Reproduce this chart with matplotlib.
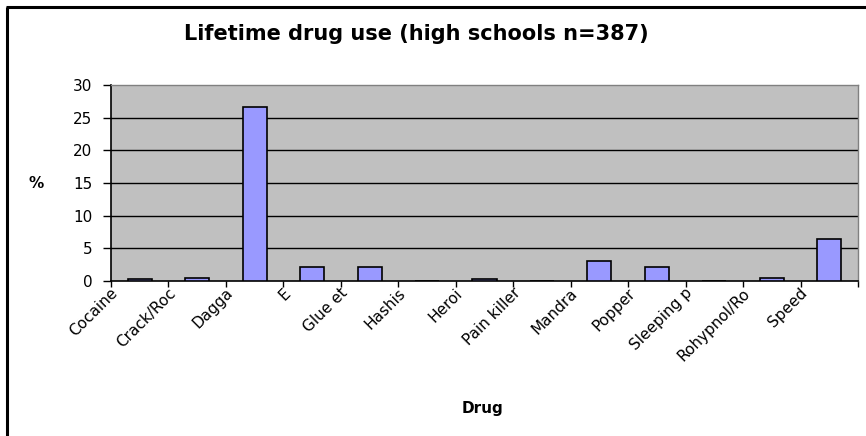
import matplotlib
matplotlib.use("Agg")
import matplotlib.pyplot as plt
from matplotlib.lines import Line2D
import matplotlib.transforms as mtransforms
import numpy as np

plt.rcParams['font.family'] = ['DejaVu Sans']

categories = ["Cocaine", "Crack/Roc", "Dagga", "E", "Glue et", "Hashis", "Heroi",
              "Pain killer", "Mandra", "Popper", "Sleeping p", "Rohypnol/Ro", "Speed"]
values = [0.26, 0.52, 26.6, 2.07, 2.07, 0.0, 0.26, 0.0, 3.1, 2.07, 0.0, 0.52, 6.46]
yticks = [0, 5, 10, 15, 20, 25, 30]

W, H = 866, 436
fig = plt.figure(figsize=(W / 100, H / 100), dpi=100)
fig.patch.set_facecolor('white')
fig.patch.set_edgecolor('white')
fig.patch.set_linewidth(0)

# outer chart frame: only left and top edges are inside the image
fig.add_artist(Line2D([7 / W, 7 / W], [-0.05, 1 - 7.5 / H], transform=fig.transFigure,
                     color='black', linewidth=2.2, solid_capstyle='butt'))
fig.add_artist(Line2D([6 / W, 1.05], [1 - 7.5 / H, 1 - 7.5 / H], transform=fig.transFigure,
                     color='black', linewidth=2.2, solid_capstyle='butt'))

ax = fig.add_axes([111 / W, 1 - 281 / H, (858 - 111) / W, (281 - 85) / H])
ax.set_facecolor('#C0C0C0')

x = np.arange(len(categories))
ax.bar(x, values, width=0.42, color='#9999FF', edgecolor='black', linewidth=1.2, zorder=3)

ax.set_xlim(-0.5, len(categories) - 0.5)
ax.set_ylim(0, 30)
ax.set_yticks(yticks)
ax.set_yticklabels([str(v) for v in yticks], fontsize=11)
for v in yticks[1:-1]:
    ax.axhline(v, color='black', linewidth=1.0, zorder=1)

ax.set_xticks(x)
ax.set_xticks(np.arange(-0.5, len(categories), 1.0), minor=True)
ax.tick_params(axis='x', which='major', length=0, pad=7)
ax.tick_params(axis='x', which='minor', length=4, width=1.0, color='black', direction='out')
ax.tick_params(axis='y', length=6, width=1.0, color='black', direction='out', pad=7.5)
ax.set_xticklabels(categories, rotation=45, ha='right', va='center',
                   rotation_mode='anchor', fontsize=11)
offset = mtransforms.ScaledTranslation(-0.24, 0.0, fig.dpi_scale_trans)
for lab in ax.get_xticklabels():
    lab.set_transform(lab.get_transform() + offset)

for s in ['left', 'bottom']:
    ax.spines[s].set_color('black')
    ax.spines[s].set_linewidth(1.2)
for s in ['top', 'right']:
    ax.spines[s].set_color('#808080')
    ax.spines[s].set_linewidth(1.0)

fig.text(416 / W, 1 - 40 / H, "Lifetime drug use (high schools n=387)",
         ha='center', va='baseline', fontsize=15, fontweight='bold')
fig.text(36 / W, 1 - 183 / H, "%", ha='center', va='center', fontsize=11, fontweight='bold')
fig.text(483 / W, 1 - 408 / H, "Drug", ha='center', va='center', fontsize=11, fontweight='bold')

fig.savefig("out.png", dpi=100)
